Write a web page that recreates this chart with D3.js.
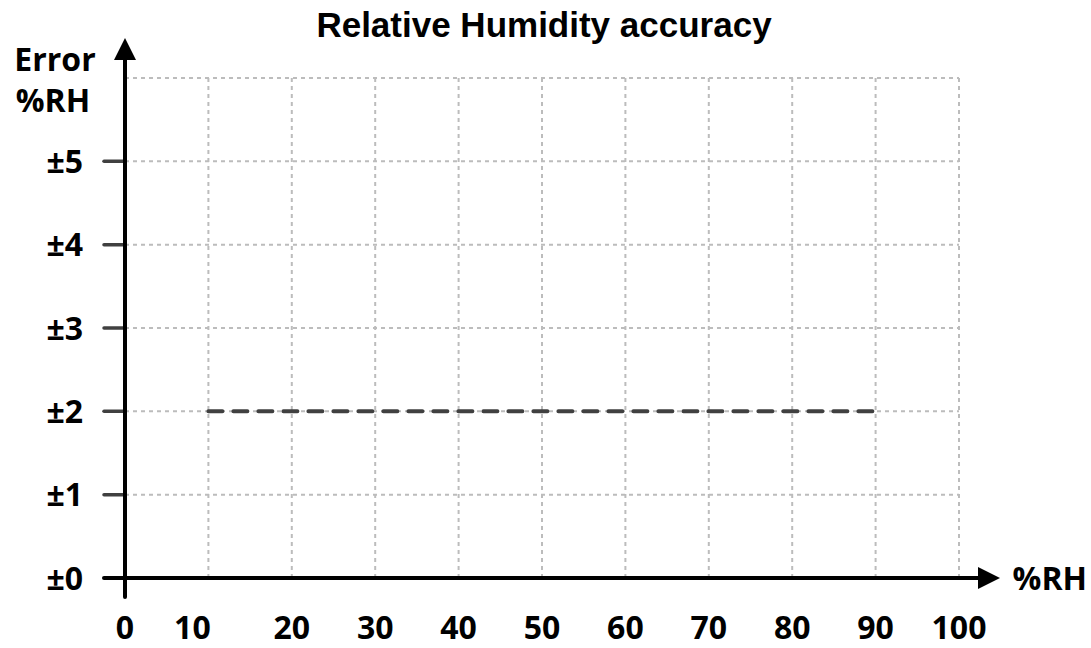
<!DOCTYPE html>
<html>
<head>
<meta charset="utf-8">
<script src="https://cdn.jsdelivr.net/npm/d3@7"></script>
<style>
  body { margin: 0; background: #fff; }
  text { font-family: "Open Sans", Lato, sans-serif; font-weight: bold; fill: #000; }
</style>
</head>
<body>
<svg id="chart" width="1091" height="648"></svg>
<script>
// data
var xTicks = [0, 10, 20, 30, 40, 50, 60, 70, 80, 90, 100]
var yTicks = [0, 1, 2, 3, 4, 5]
var yGrid = [1, 2, 3, 4, 5, 6]
var rhValues = [10, 90]
var errorValues = [2, 2]

var svg = d3.select('#chart')
var x = d3.scaleLinear().domain([0, 100]).range([125, 959])
var y = d3.scaleLinear().domain([0, 6]).range([578, 78])

svg.append('defs').append('marker')
    .attr('id', 'arrow')
    .attr('viewBox', '0 0 10 10')
    .attr('refX', 0).attr('refY', 5)
    .attr('markerWidth', 22).attr('markerHeight', 22)
    .attr('markerUnits', 'userSpaceOnUse')
    .attr('orient', 'auto')
  .append('path')
    .attr('d', 'M0,0 L10,5 L0,10 Z')
    .attr('fill', '#000')

// grid
var grid = svg.append('g')
    .attr('stroke', '#bcbcbc')
    .attr('stroke-width', 2)
    .attr('stroke-dasharray', '4,4')
grid.selectAll('line.h')
    .data(yGrid)
    .enter().append('line')
    .attr('x1', x(0)).attr('x2', x(100))
    .attr('y1', function (d) { return y(d) })
    .attr('y2', function (d) { return y(d) })
grid.selectAll('line.v')
    .data(xTicks.slice(1))
    .enter().append('line')
    .attr('x1', function (d) { return x(d) })
    .attr('x2', function (d) { return x(d) })
    .attr('y1', y(6)).attr('y2', y(0))

// data line
var line = d3.line()
    .x(function (d) { return x(d[0]) })
    .y(function (d) { return y(d[1]) })
svg.append('path')
    .datum(d3.zip(rhValues, errorValues))
    .attr('d', line)
    .attr('fill', 'none')
    .attr('stroke', '#404040')
    .attr('stroke-width', 4)
    .attr('stroke-linecap', 'round')
    .attr('stroke-dasharray', '14,11')

// y ticks
svg.append('g').selectAll('line')
    .data(yTicks.slice(1))
    .enter().append('line')
    .attr('x1', x(0) - 21).attr('x2', x(0))
    .attr('y1', function (d) { return y(d) })
    .attr('y2', function (d) { return y(d) })
    .attr('stroke', '#404040')
    .attr('stroke-width', 3.5)
    .attr('stroke-linecap', 'round')

// axes
svg.append('line')
    .attr('x1', x(0) - 21).attr('x2', 978)
    .attr('y1', y(0)).attr('y2', y(0))
    .attr('stroke', '#000').attr('stroke-width', 4)
    .attr('stroke-linecap', 'round')
    .attr('marker-end', 'url(#arrow)')
svg.append('line')
    .attr('x1', x(0)).attr('x2', x(0))
    .attr('y1', 597).attr('y2', 60)
    .attr('stroke', '#000').attr('stroke-width', 4)
    .attr('stroke-linecap', 'round')
    .attr('marker-end', 'url(#arrow)')

// tick labels
svg.append('g').selectAll('text')
    .data(yTicks)
    .enter().append('text')
    .attr('x', 83)
    .attr('y', function (d) { return y(d) })
    .attr('dy', '0.36em')
    .attr('text-anchor', 'end')
    .attr('font-size', 32)
    .text(function (d) { return '±' + d })
svg.append('g').selectAll('text')
    .data(xTicks)
    .enter().append('text')
    .attr('x', function (d) { return x(d) + (d === 10 ? -16 : 0) })
    .attr('y', 639)
    .attr('text-anchor', 'middle')
    .attr('font-size', 32)
    .text(function (d) { return d })

// axis titles
svg.append('text')
    .attr('x', 55).attr('y', 71)
    .attr('text-anchor', 'middle')
    .attr('font-size', 32)
    .text('Error')
svg.append('text')
    .attr('x', 53).attr('y', 112)
    .attr('text-anchor', 'middle')
    .attr('font-size', 32)
    .text('%RH')
svg.append('text')
    .attr('x', 1087).attr('y', 590)
    .attr('text-anchor', 'end')
    .attr('font-size', 32)
    .text('%RH')

svg.append('text')
    .attr('x', 544).attr('y', 37)
    .attr('text-anchor', 'middle')
    .style('font-family', '"Liberation Sans", Arial, sans-serif')
    .attr('font-size', 35)
    .text('Relative Humidity accuracy')
</script>
</body>
</html>
